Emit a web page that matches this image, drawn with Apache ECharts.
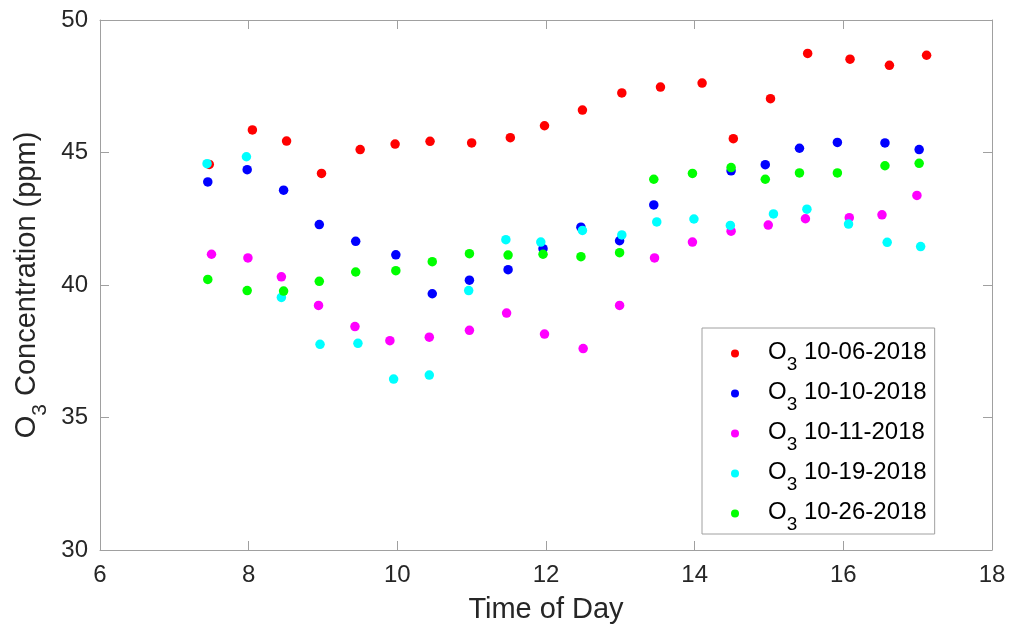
<!DOCTYPE html>
<html>
<head>
<meta charset="utf-8">
<title>O3 Concentration by Time of Day</title>
<script src="https://cdn.jsdelivr.net/npm/echarts@6/dist/echarts.min.js"></script>
<style>
  html, body { margin: 0; padding: 0; background: #fff; }
  #chart { width: 1013px; height: 630px; }
</style>
</head>
<body>
<div id="chart"></div>
<script>
// Measurement dates (one series each)
const dates = ['10-06-2018', '10-10-2018', '10-11-2018', '10-19-2018', '10-26-2018'];
const colors = ['#ff0000', '#0000ff', '#ff00ff', '#00ffff', '#00ff00'];

// Hour of day and O3 concentration (ppm) for each date
const times_1006 = [7.47, 8.05, 8.51, 8.98, 9.50, 9.97, 10.44, 11.00, 11.52, 11.98, 12.49, 13.02, 13.54, 14.10, 14.52, 15.02, 15.52, 16.09, 16.62, 17.12];
const o3_1006    = [44.55, 45.85, 45.43, 44.21, 45.11, 45.32, 45.42, 45.36, 45.56, 46.01, 46.60, 47.25, 47.47, 47.62, 45.52, 47.03, 48.74, 48.52, 48.29, 48.67];

const times_1010 = [7.45, 7.98, 8.47, 8.95, 9.44, 9.98, 10.47, 10.97, 11.49, 11.96, 12.47, 12.99, 13.45, 14.49, 14.95, 15.41, 15.92, 16.56, 17.02];
const o3_1010    = [43.89, 44.35, 43.58, 42.28, 41.65, 41.14, 39.67, 40.18, 40.58, 41.37, 42.18, 41.67, 43.02, 44.31, 44.54, 45.16, 45.38, 45.36, 45.11];

const times_1011 = [7.50, 7.99, 8.44, 8.94, 9.43, 9.90, 10.43, 10.97, 11.47, 11.98, 12.50, 12.99, 13.46, 13.97, 14.49, 14.99, 15.49, 16.08, 16.52, 16.99];
const o3_1011    = [41.16, 41.02, 40.31, 39.23, 38.43, 37.90, 38.03, 38.29, 38.94, 38.15, 37.60, 39.23, 41.02, 41.62, 42.03, 42.26, 42.50, 42.54, 42.65, 43.38];

const times_1019 = [7.44, 7.97, 8.44, 8.96, 9.47, 9.95, 10.43, 10.96, 11.46, 11.93, 12.49, 13.02, 13.49, 13.99, 14.48, 15.06, 15.51, 16.07, 16.59, 17.04];
const o3_1019    = [44.58, 44.84, 39.53, 37.76, 37.80, 36.45, 36.60, 39.79, 41.71, 41.62, 42.06, 41.89, 42.38, 42.49, 42.25, 42.68, 42.86, 42.30, 41.61, 41.45];

const times_1026 = [7.45, 7.98, 8.47, 8.95, 9.44, 9.98, 10.47, 10.97, 11.49, 11.96, 12.47, 12.99, 13.45, 13.97, 14.49, 14.95, 15.41, 15.92, 16.56, 17.02];
const o3_1026    = [40.21, 39.79, 39.77, 40.14, 40.49, 40.54, 40.88, 41.18, 41.13, 41.16, 41.07, 41.22, 43.99, 44.21, 44.43, 43.99, 44.23, 44.23, 44.50, 44.59];

const allTimes = [times_1006, times_1010, times_1011, times_1019, times_1026];
const allO3    = [o3_1006, o3_1010, o3_1011, o3_1019, o3_1026];

// Axis ranges
const xMin = 6, xMax = 18, xStep = 2;
const yMin = 30, yMax = 50, yStep = 5;

const FONT = '"Liberation Sans", Arial, Helvetica, sans-serif';
const AXIS_GRAY = '#a0a0a0';
const TEXT = '#262626';

const series = dates.map((d, k) => ({
  name: d,
  type: 'scatter',
  symbol: 'circle',
  symbolSize: 9.5,
  itemStyle: { color: colors[k], opacity: 1 },
  emphasis: { disabled: true },
  animation: false,
  data: allTimes[k].map((t, i) => [t, allO3[k][i]])
}));

function boxAxis(base, extra) {
  return Object.assign({
    type: 'value',
    splitLine: { show: false },
    axisLine: { show: true, onZero: false, lineStyle: { color: AXIS_GRAY, width: 1 } },
    axisTick: { show: true, inside: true, length: 9, lineStyle: { color: AXIS_GRAY, width: 1 } },
    minorTick: { show: false }
  }, base, extra);
}

const xRange = { min: xMin, max: xMax, interval: xStep };
const yRange = { min: yMin, max: yMax, interval: yStep };

const option = {
  backgroundColor: '#ffffff',
  animation: false,
  textStyle: { fontFamily: FONT },
  grid: { left: 100, right: 21, top: 20, bottom: 80, containLabel: false, outerBoundsMode: 'none' },
  xAxis: [
    boxAxis(xRange, {
      position: 'bottom',
      axisLabel: { show: true, fontSize: 24, color: TEXT, margin: 13, fontFamily: FONT },
      name: 'Time of Day',
      nameLocation: 'middle',
      nameGap: 45,
      nameTextStyle: { fontSize: 29, color: TEXT, fontFamily: FONT }
    }),
    boxAxis(xRange, { position: 'top', axisLabel: { show: false } })
  ],
  yAxis: [
    boxAxis(yRange, {
      position: 'left',
      axisLabel: { show: true, fontSize: 24, color: TEXT, margin: 12, fontFamily: FONT },
      name: '{o|O}{s|3}{t| Concentration (ppm)}',
      nameLocation: 'middle',
      nameRotate: 90,
      nameGap: 50,
      nameTextStyle: {
        color: TEXT,
        fontFamily: FONT,
        rich: {
          o: { fontSize: 29, lineHeight: 32, verticalAlign: 'top', color: TEXT, fontFamily: FONT },
          s: { fontSize: 21, lineHeight: 21, verticalAlign: 'top', padding: [17, 0, 0, 0], color: TEXT, fontFamily: FONT },
          t: { fontSize: 29, lineHeight: 32, verticalAlign: 'top', color: TEXT, fontFamily: FONT }
        }
      }
    }),
    boxAxis(yRange, { position: 'right', axisLabel: { show: false } })
  ],
  legend: {
    orient: 'vertical',
    left: 702,
    top: 328,
    padding: [12, 8, 0, 29],
    itemWidth: 56,
    itemHeight: 8,
    itemGap: 6,
    icon: 'circle',
    selectedMode: false,
    borderColor: AXIS_GRAY,
    borderWidth: 1,
    backgroundColor: '#ffffff',
    data: dates,
    formatter: name => '{o|O}{s|3}{d| ' + name + '}',
    textStyle: {
      color: '#000',
      fontFamily: FONT,
      rich: {
        o: { fontSize: 24, lineHeight: 27, verticalAlign: 'top', color: '#000', fontFamily: FONT },
        s: { fontSize: 19, lineHeight: 19, verticalAlign: 'top', padding: [15, 0, 0, 0], color: '#000', fontFamily: FONT },
        d: { fontSize: 24, lineHeight: 27, verticalAlign: 'top', color: '#000', fontFamily: FONT }
      }
    }
  },
  series: series
};

const chart = echarts.init(document.getElementById('chart'), null, { renderer: 'canvas' });
chart.setOption(option);
</script>
</body>
</html>
